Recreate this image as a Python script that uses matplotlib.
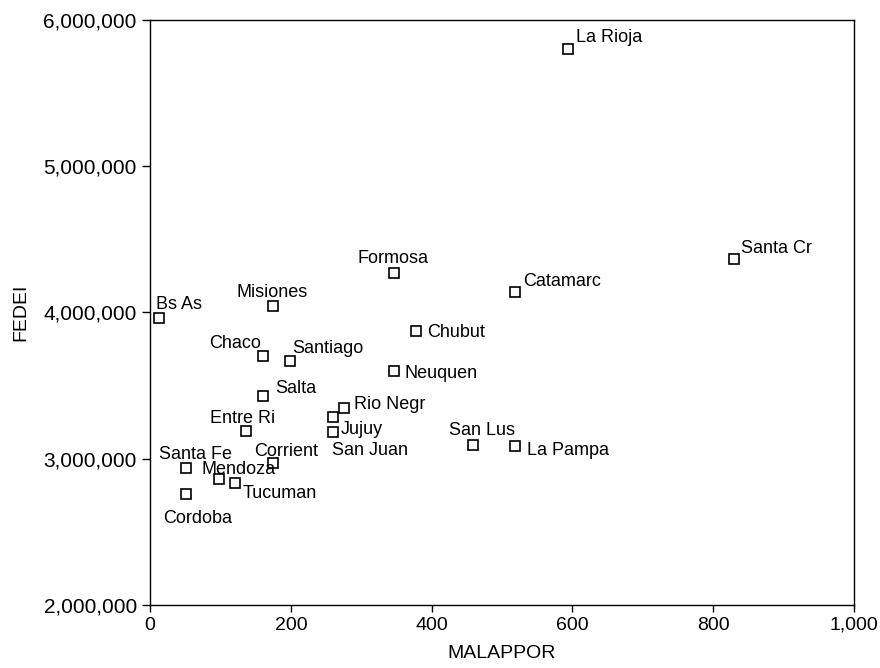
import matplotlib.pyplot as plt
from matplotlib.ticker import FuncFormatter

plt.rcParams["font.family"] = ["Liberation Sans", "DejaVu Sans"]

provinces = ["La Rioja", "Santa Cr", "Formosa", "Catamarc", "Misiones", "Bs As",
             "Chubut", "Chaco", "Santiago", "Neuquen", "Salta", "Rio Negr",
             "Jujuy", "San Juan", "Entre Ri", "San Lus", "La Pampa", "Santa Fe",
             "Corrient", "Mendoza", "Tucuman", "Cordoba"]
malappor = [593, 830, 346, 519, 175, 13,
            378, 161, 199, 346, 161, 276,
            260, 260, 136, 459, 518, 51,
            175, 98, 120, 51]
fedei = [5800000, 4368000, 4268000, 4140000, 4044000, 3964000,
         3873000, 3703000, 3666000, 3602000, 3429000, 3349000,
         3285000, 3181000, 3190000, 3094000, 3089000, 2939000,
         2973000, 2859000, 2836000, 2757000]

# label placement: (dx, dy) in pixels from the point, horizontal alignment
label_pos = {
    "La Rioja": (8, 7, "left"), "Santa Cr": (7, 6, "left"),
    "Formosa": (-36, 10, "left"), "Catamarc": (8, 6, "left"),
    "Misiones": (-37, 9, "left"), "Bs As": (-3, 9, "left"),
    "Chubut": (11, -6, "left"), "Chaco": (-2, 8, "right"),
    "Santiago": (2, 8, "left"), "Neuquen": (11, -7, "left"),
    "Salta": (12, 3, "left"), "Rio Negr": (10, -1, "left"),
    "Jujuy": (8, -17, "left"), "San Juan": (-1, -23, "left"),
    "Entre Ri": (-36, 8, "left"), "San Lus": (-24, 10, "left"),
    "La Pampa": (12, -9, "left"), "Santa Fe": (-27, 9, "left"),
    "Corrient": (-19, 7, "left"), "Mendoza": (-18, 5, "left"),
    "Tucuman": (8, -15, "left"), "Cordoba": (-23, -29, "left"),
}

fig = plt.figure(figsize=(8.8, 6.68), dpi=100)
ax = fig.add_axes([0.1705, 0.0943, 0.8, 0.8758])

ax.plot(malappor, fedei, linestyle="none", marker="s", markersize=6.5,
        markerfacecolor="white", markeredgecolor="black", markeredgewidth=1.2)

for name, x, y in zip(provinces, malappor, fedei):
    dx, dy, ha = label_pos[name]
    ax.annotate(name, (x, y), xytext=(dx, dy), textcoords="offset pixels",
                ha=ha, va="baseline", fontsize=13)

ax.set_xlim(0, 1000)
ax.set_ylim(2000000, 6000000)
ax.set_xticks([0, 200, 400, 600, 800, 1000])
ax.set_yticks([2000000, 3000000, 4000000, 5000000, 6000000])
ax.xaxis.set_major_formatter(FuncFormatter(lambda v, p: f"{int(v):,}"))
ax.yaxis.set_major_formatter(FuncFormatter(lambda v, p: f"{int(v):,}"))
ax.tick_params(axis="x", labelsize=14, length=5, width=1, direction="out")
ax.tick_params(axis="y", labelsize=15, length=6, width=1, direction="out")
for s in ax.spines.values():
    s.set_linewidth(1.0)

ax.set_xlabel("MALAPPOR", fontsize=14, labelpad=8)
ax.set_ylabel("FEDEI", fontsize=14, labelpad=10)

fig.savefig("out.png", dpi=100)
